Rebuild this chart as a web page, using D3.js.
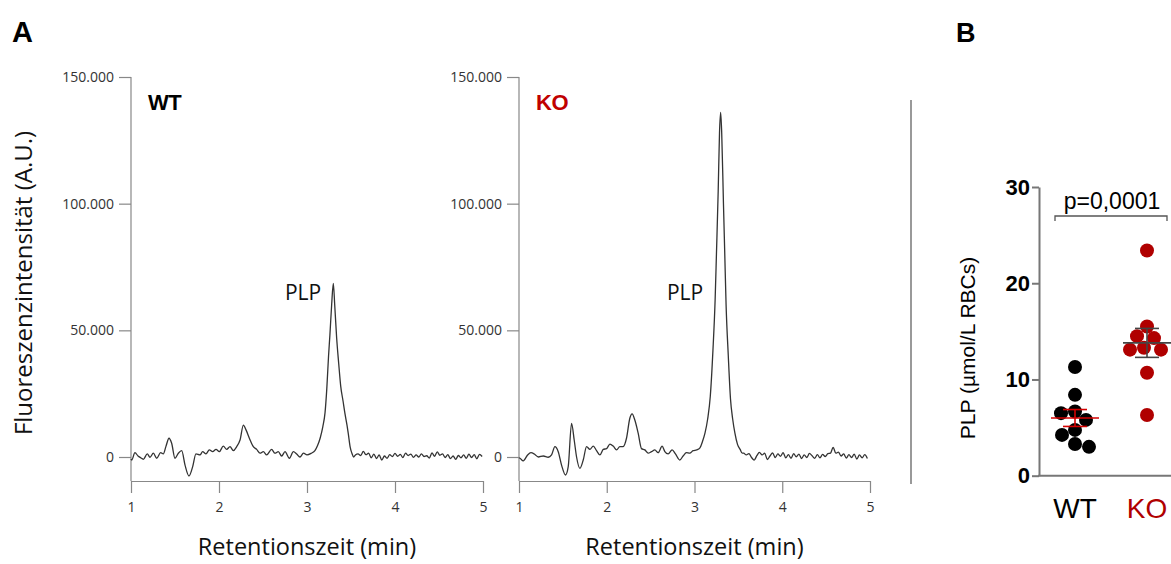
<!DOCTYPE html>
<html><head><meta charset="utf-8">
<script src="https://cdn.jsdelivr.net/npm/d3@7"></script>
<style>
html,body{margin:0;padding:0;background:#fff;}
svg{display:block;}
</style></head>
<body>
<svg id="chart" width="1171" height="564"></svg>
<script>
// ---------- DATA ----------
const yTicksA = [0, 50000, 100000, 150000];
const xTicksA = [1, 2, 3, 4, 5];

// WT chromatogram: retention time (min) and fluorescence intensity (A.U.)
const wtTime = [1.00,1.008,1.045,1.08,1.11,1.14,1.185,1.216,1.254,1.292,1.337,1.367,1.398,1.432,1.462,1.50,1.538,1.576,1.614,1.659,1.701,1.738,1.784,1.814,1.852,1.89,1.928,1.966,2.004,2.049,2.087,2.125,2.163,2.201,2.239,2.277,2.307,2.345,2.39,2.428,2.466,2.504,2.542,2.598,2.636,2.674,2.712,2.75,2.80,2.845,2.883,2.92,2.96,3.00,3.05,3.09,3.12,3.15,3.18,3.205,3.225,3.245,3.26,3.28,3.299,3.315,3.337,3.36,3.383,3.41,3.432,3.455,3.47,3.49,3.51,3.53,3.55,3.58,3.61,3.64,3.67,3.70,3.73,3.76,3.79,3.82,3.85,3.88,3.91,3.94,3.97,4.00,4.03,4.06,4.09,4.12,4.15,4.18,4.21,4.24,4.27,4.30,4.33,4.36,4.39,4.42,4.45,4.48,4.51,4.54,4.57,4.60,4.63,4.66,4.69,4.72,4.75,4.78,4.81,4.84,4.87,4.90,4.93,4.96,4.99];
const wtSignal = [-800,-1200,1700,400,-300,-900,1200,-100,1500,-500,1700,1200,4300,7400,5400,-500,1500,2500,-3200,-7500,-3800,1200,800,2100,1200,2800,2100,3000,2100,4300,3000,4100,2500,4100,6700,12600,10700,7400,4100,3000,1500,2100,800,3000,1500,2100,400,2100,-500,2100,1200,0,1500,800,1500,2500,4500,7500,12000,17500,27000,40000,48000,60000,68500,60000,47000,37000,28000,22000,17000,12500,9000,4000,1500,0,800,1200,600,2200,900,1500,-300,1100,-600,800,-1200,400,-500,900,200,1400,300,1000,-200,1500,600,1100,-100,800,0,1200,200,500,-400,1600,300,2000,700,1200,-200,900,-600,400,-900,600,-300,800,-500,1100,-200,900,-700,1000,200];

// KO chromatogram
const koTime = [1.00,1.011,1.049,1.098,1.136,1.174,1.22,1.277,1.333,1.371,1.409,1.447,1.485,1.53,1.561,1.599,1.629,1.656,1.694,1.732,1.77,1.808,1.846,1.884,1.922,1.96,1.998,2.036,2.074,2.112,2.149,2.187,2.225,2.263,2.289,2.32,2.358,2.396,2.434,2.472,2.51,2.548,2.586,2.631,2.662,2.70,2.745,2.783,2.832,2.87,2.908,2.946,2.984,3.025,3.06,3.09,3.12,3.15,3.18,3.21,3.235,3.25,3.27,3.285,3.298,3.31,3.33,3.345,3.36,3.385,3.41,3.435,3.46,3.49,3.52,3.545,3.56,3.59,3.62,3.65,3.68,3.71,3.74,3.77,3.80,3.83,3.86,3.89,3.92,3.95,3.98,4.01,4.04,4.07,4.10,4.13,4.16,4.19,4.22,4.25,4.28,4.31,4.34,4.37,4.40,4.43,4.46,4.49,4.52,4.55,4.58,4.61,4.64,4.67,4.70,4.73,4.76,4.79,4.82,4.85,4.88,4.91,4.94,4.97];
const koSignal = [-300,-500,-1500,800,1700,1200,0,400,-100,800,4100,2100,-3200,-7100,-3800,13300,6700,0,-4500,-1200,4100,3000,4300,2500,800,3000,3300,5100,4300,2800,4100,4100,7400,15300,17000,14600,9400,3300,2800,1500,2100,2800,1700,4300,2100,1200,2800,1200,-1200,400,1700,1500,2500,2800,3500,6000,9500,15000,24000,42000,62000,80000,105000,128000,136000,128000,100000,80000,60000,40000,23000,15000,9500,5000,3000,1500,1500,800,1300,-200,-1200,500,1800,800,1500,-1000,400,1600,-200,1200,300,1700,-300,900,-500,1300,100,1100,-600,800,-200,1400,500,-500,900,-300,1000,200,1300,1500,3800,1500,1900,400,1200,-400,900,-200,1100,-800,800,-300,900,-600];

// Panel B: PLP (µmol/L RBCs)
const groups = ["WT", "KO"];
const wtPLP = [11.3, 8.4, 6.67, 6.5, 5.8, 4.76, 4.24, 3.3, 3.0];
const koPLP = [23.4, 15.5, 14.5, 14.3, 13.3, 13.1, 13.1, 10.7, 6.3];
const yTicksB = [0, 10, 20, 30];
const pText = "p=0,0001";

// ---------- DRAW ----------
const svg = d3.select("#chart");
const de = d3.formatLocale({decimal: ",", thousands: ".", grouping: [3], currency: ["", "€"]});
const fmtA = de.format(",");
const calibri = "'Open Sans', 'Liberation Sans', sans-serif";
const arial = "'Liberation Sans', Arial, sans-serif";

// panel letters
svg.append("text").attr("x", 12).attr("y", 42).text("A")
  .attr("font-family", arial).attr("font-weight", "bold").attr("font-size", 29).attr("fill", "#000");
svg.append("text").attr("x", 956).attr("y", 42).text("B")
  .attr("font-family", arial).attr("font-weight", "bold").attr("font-size", 27).attr("fill", "#000");

function chromPanel(x0, x1, times, signal, label, labelColor, plpX) {
  const x = d3.scaleLinear().domain([1, 5]).range([x0, x1]);
  const y = d3.scaleLinear().domain([0, 150000]).range([457, 77]);
  const axisY = 481;
  const g = svg.append("g");

  // y axis
  const ya = g.append("g").attr("transform", `translate(${x0},0)`)
    .call(d3.axisLeft(y).tickValues(yTicksA).tickFormat(fmtA).tickSize(12).tickPadding(5));
  ya.select(".domain").remove();
  ya.selectAll(".tick line").attr("stroke", "#888").attr("stroke-width", 1.2);
  ya.selectAll(".tick text").attr("font-family", calibri).attr("font-size", 14).attr("fill", "#333");
  g.append("line").attr("x1", x0).attr("x2", x0).attr("y1", y(150000)).attr("y2", axisY)
    .attr("stroke", "#888").attr("stroke-width", 1.2);

  // x axis
  const xa = g.append("g").attr("transform", `translate(0,${axisY})`)
    .call(d3.axisBottom(x).tickValues(xTicksA).tickFormat(d3.format("d")).tickSize(12).tickSizeOuter(0).tickPadding(9));
  xa.select(".domain").attr("stroke", "#888").attr("stroke-width", 1.2);
  xa.selectAll(".tick line").attr("stroke", "#888").attr("stroke-width", 1.2);
  xa.selectAll(".tick text").attr("font-family", calibri).attr("font-size", 14).attr("fill", "#333");

  // trace
  const line = d3.line().x((d, i) => x(times[i])).y(d => y(d)).curve(d3.curveMonotoneX);
  g.append("path").datum(signal).attr("d", line)
    .attr("fill", "none").attr("stroke", "#333").attr("stroke-width", 1.3).attr("stroke-linejoin", "round");

  // labels
  g.append("text").attr("x", x0 + 17).attr("y", 110).text(label)
    .attr("font-family", arial).attr("font-weight", "bold").attr("font-size", 22).attr("fill", labelColor)
    .attr("letter-spacing", -0.5);
  g.append("text").attr("x", plpX).attr("y", 300).attr("text-anchor", "middle").text("PLP")
    .attr("font-family", calibri).attr("font-size", 21).attr("fill", "#111");
  g.append("text").attr("x", (x0 + x1) / 2).attr("y", 555).attr("text-anchor", "middle")
    .text("Retentionszeit (min)")
    .attr("font-family", calibri).attr("font-size", 23.5).attr("fill", "#111");
}

chromPanel(131, 483, wtTime, wtSignal, "WT", "#000", 303);
chromPanel(519, 870, koTime, koSignal, "KO", "#c00000", 685);

svg.append("text").attr("transform", "translate(32,283) rotate(-90)").attr("text-anchor", "middle")
  .text("Fluoreszenzintensität (A.U.)")
  .attr("font-family", calibri).attr("font-size", 24).attr("fill", "#111");

// separator
svg.append("line").attr("x1", 911).attr("x2", 911).attr("y1", 100).attr("y2", 484)
  .attr("stroke", "#555").attr("stroke-width", 1.2);

// ---------- Panel B ----------
const xB = d3.scalePoint().domain(groups).range([1039, 1183]).padding(0.5);
const yB = d3.scaleLinear().domain([0, 30]).range([475.7, 187]);
const gB = svg.append("g");

const yaB = gB.append("g").attr("transform", "translate(1039,0)")
  .call(d3.axisLeft(yB).tickValues(yTicksB).tickSize(7).tickSizeOuter(0).tickPadding(2));
yaB.select(".domain").attr("stroke", "#777").attr("stroke-width", 2);
yaB.selectAll(".tick line").attr("stroke", "#777").attr("stroke-width", 2);
yaB.selectAll(".tick text").attr("font-family", arial).attr("font-weight", "bold").attr("font-size", 22).attr("fill", "#000");
gB.append("line").attr("x1", 1038).attr("x2", 1171).attr("y1", yB(0)).attr("y2", yB(0))
  .attr("stroke", "#777").attr("stroke-width", 2);

// category labels
gB.selectAll(".cat").data(groups).enter().append("text")
  .attr("x", d => xB(d)).attr("y", 518).attr("text-anchor", "middle").text(d => d)
  .attr("font-family", arial).attr("font-size", 28).attr("fill", d => d === "KO" ? "#b00000" : "#000");

gB.append("text").attr("transform", "translate(975,348) rotate(-90)").attr("text-anchor", "middle")
  .text("PLP (µmol/L RBCs)")
  .attr("font-family", arial).attr("font-size", 21).attr("fill", "#000");

// swarm layout
const R = 7;
function swarm(vals, cx) {
  const placed = [];
  const order = vals.map((v, i) => i).sort((a, b) => vals[b] - vals[a]);
  order.forEach(i => {
    const py = yB(vals[i]);
    for (let k = 0; k < 60; k++) {
      const cands = k === 0 ? [0] : [-k, k];
      let found = null;
      for (const dx of cands) {
        const ok = placed.every(p => Math.hypot(p.x - (cx + dx), p.y - py) >= 2 * R - 0.5);
        if (ok) { found = dx; break; }
      }
      if (found !== null) { placed.push({x: cx + found, y: py, v: vals[i]}); break; }
    }
  });
  return placed;
}

function group(vals, name, color, barColor) {
  const cx = xB(name);
  const pts = swarm(vals, cx);
  gB.selectAll(null).data(pts).enter().append("circle")
    .attr("cx", d => d.x).attr("cy", d => d.y).attr("r", R).attr("fill", color);
  const mean = d3.mean(vals);
  const sem = d3.deviation(vals) / Math.sqrt(vals.length);
  const bg = gB.append("g").attr("stroke", barColor).attr("stroke-width", 1.6);
  bg.append("line").attr("x1", cx - 24).attr("x2", cx + 24).attr("y1", yB(mean)).attr("y2", yB(mean));
  bg.append("line").attr("x1", cx).attr("x2", cx).attr("y1", yB(mean + sem)).attr("y2", yB(mean - sem));
  bg.append("line").attr("x1", cx - 12).attr("x2", cx + 12).attr("y1", yB(mean + sem)).attr("y2", yB(mean + sem));
  bg.append("line").attr("x1", cx - 12).attr("x2", cx + 12).attr("y1", yB(mean - sem)).attr("y2", yB(mean - sem));
}
group(wtPLP, "WT", "#000", "#d40000");
group(koPLP, "KO", "#b00000", "#444");

// significance bracket
const by = 216;
gB.append("path")
  .attr("d", `M${xB("WT") - 20},${by + 5}V${by}H${xB("KO") + 20}V${by + 5}`)
  .attr("fill", "none").attr("stroke", "#555").attr("stroke-width", 1.3);
gB.append("text").attr("x", (xB("WT") + xB("KO")) / 2 + 1).attr("y", 209).attr("text-anchor", "middle")
  .text(pText).attr("font-family", arial).attr("font-size", 23).attr("fill", "#000");
</script>
</body></html>
